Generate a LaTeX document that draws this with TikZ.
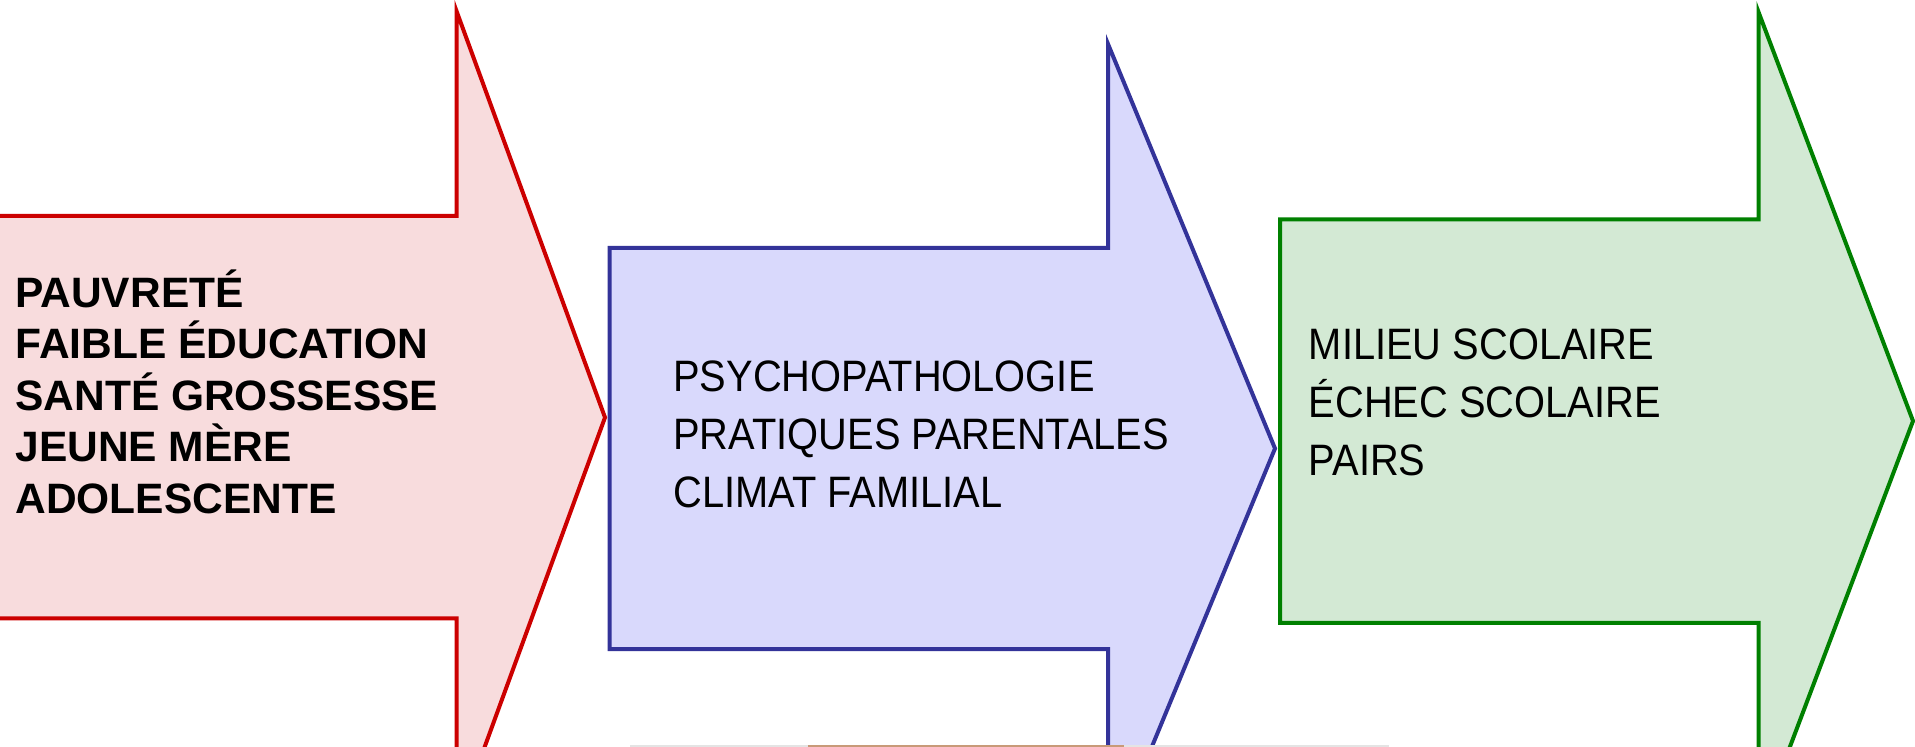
\documentclass[tikz,border=0pt]{standalone}
\usepackage{fontspec}
\newfontfamily\arialsans{Liberation Sans}
\newfontfamily\etroitsans[FakeStretch=0.905]{Liberation Sans}

\definecolor{rougetrait}{HTML}{CC0000}
\definecolor{rougefond}{HTML}{F8DCDD}
\definecolor{bleutrait}{HTML}{333399}
\definecolor{bleufond}{HTML}{D9D9FC}
\definecolor{verttrait}{HTML}{008000}
\definecolor{vertfond}{HTML}{D3E9D4}
\definecolor{grisbord}{HTML}{E4E4E4}
\definecolor{brunbord}{HTML}{C89A78}

\begin{document}
\begin{tikzpicture}
            [
                x=0.5pt, y=-0.5pt,
                fleche/.style={line width=2pt, line join=miter},
                texte gras/.style={anchor=base west, inner sep=0pt, align=left,
                    font=\fontsize{21.25}{25.75}\arialsans\bfseries\selectfont},
                texte etroit/.style={anchor=base west, inner sep=0pt, align=left,
                    font=\fontsize{22}{29}\etroitsans\selectfont}
            ]
            \useasboundingbox (0,0) rectangle (1915,747);
            \clip (0,0) rectangle (1915,747);

            % les trois fleches
            \draw[fleche, draw=rougetrait, fill=rougefond]
                (-20,216) -- (456.5,216) -- (456.5,11) -- (605,417.5)
                -- (456.5,824) -- (456.5,618.5) -- (-20,618.5) -- cycle;
            \draw[fleche, draw=bleutrait, fill=bleufond]
                (609.5,248) -- (1108,248) -- (1108,44) -- (1275,448.5)
                -- (1108,853) -- (1108,649) -- (609.5,649) -- cycle;
            \draw[fleche, draw=verttrait, fill=vertfond]
                (1280,219.5) -- (1758.5,219.5) -- (1758.5,12) -- (1913,421)
                -- (1758.5,830) -- (1758.5,622.8) -- (1280,622.8) -- cycle;

            % texte place sur la ligne de base de la derniere ligne
            \node[texte gras] (pauvrete) at (15,513.3) {
                PAUVRETÉ \\
                FAIBLE ÉDUCATION \\
                SANTÉ GROSSESSE \\
                JEUNE MÈRE \\
                ADOLESCENTE
            };
            \node[texte etroit] (famille) at (673,507.3) {
                PSYCHOPATHOLOGIE \\
                PRATIQUES PARENTALES \\
                CLIMAT FAMILIAL
            };
            \node[texte etroit] (ecole) at (1308.5,476) {
                MILIEU SCOLAIRE \\
                ÉCHEC SCOLAIRE \\
                PAIRS
            };

            % bord du dessin en dessous
            \draw[grisbord, line width=0.75pt] (630,746.2) -- (1389,746.2);
            \draw[brunbord, line width=0.75pt] (808,746.2) -- (1124,746.2);
        \end{tikzpicture}
\end{document}
